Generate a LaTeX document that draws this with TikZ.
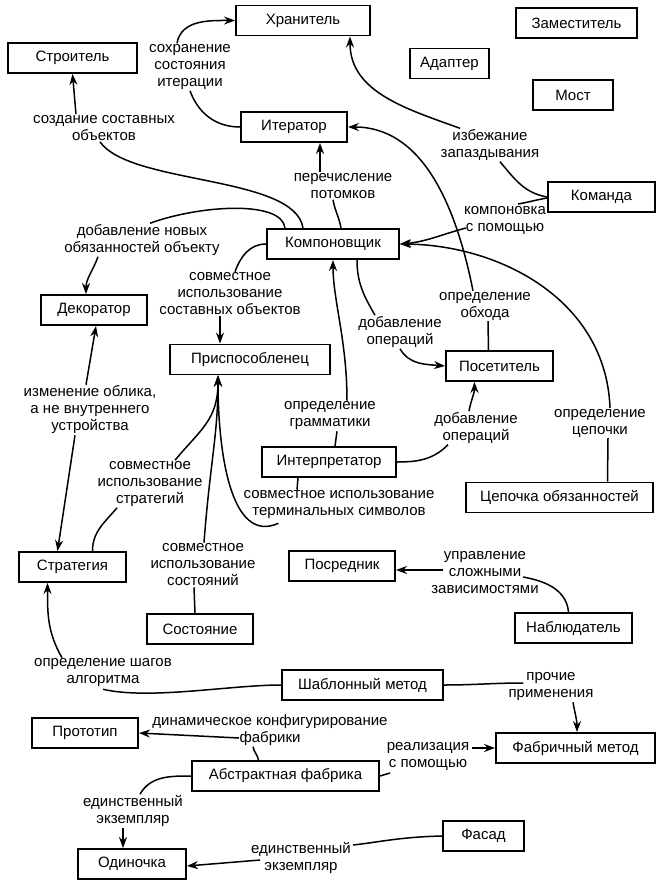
\documentclass[tikz,border=0pt]{standalone}
\usepackage{fontspec}
\setmainfont{Liberation Sans}
\usetikzlibrary{arrows.meta,calc}
\begin{document}
\begin{tikzpicture}[x=1pt,y=1pt,
  every node/.style={font=\fontsize{15}{17}\selectfont},
  box/.style={draw, line width=1.9pt, minimum height=30pt, inner sep=0pt},
  lab/.style={align=center, inner sep=1pt},
  conn/.style={line width=1.5pt},
  arr/.style={conn, -{Stealth[length=11pt,width=8pt]}}]
\useasboundingbox (0,0) rectangle (659,-884);
% boxes
\node[box, minimum width=134pt] (khran) at (303,-20.5) {Хранитель};
\node[box, minimum width=129pt] (stroi) at (72.5,-58) {Строитель};
\node[box, minimum width=121pt] (zam) at (576.5,-23) {Заместитель};
\node[box, minimum width=79pt] (adap) at (449.5,-63.5) {Адаптер};
\node[box, minimum width=80pt] (most) at (573,-95) {Мост};
\node[box, minimum width=106pt] (iter) at (294,-127) {Итератор};
\node[box, minimum width=107pt] (kom) at (601.5,-197) {Команда};
\node[box, minimum width=132pt] (komp) at (333,-244) {Компоновщик};
\node[box, minimum width=106pt] (deco) at (94,-310) {Декоратор};
\node[box, minimum width=160pt] (pris) at (250,-359.5) {Приспособленец};
\node[box, minimum width=107pt] (pos) at (499.5,-366) {Посетитель};
\node[box, minimum width=134pt] (interp) at (329,-462) {Интерпретатор};
\node[box, minimum width=187pt] (cep) at (559.5,-497.5) {Цепочка обязанностей};
\node[box, minimum width=107pt] (strat) at (72.5,-567) {Стратегия};
\node[box, minimum width=106pt] (posr) at (342,-566) {Посредник};
\node[box, minimum width=106pt] (sost) at (200,-629) {Состояние};
\node[box, minimum width=117pt] (obs) at (573.5,-628) {Наблюдатель};
\node[box, minimum width=161pt] (tmpl) at (362.5,-685) {Шаблонный метод};
\node[box, minimum width=106pt] (proto) at (85,-733) {Прототип};
\node[box, minimum width=159pt] (fabr) at (575.5,-748) {Фабричный метод};
\node[box, minimum width=187pt] (abs) at (285.5,-776) {Абстрактная фабрика};
\node[box, minimum width=81pt] (fasad) at (483.5,-836) {Фасад};
\node[box, minimum width=108pt] (odin) at (132,-864) {Одиночка};
% labels
\node[lab] (Lsoh) at (190,-67) {сохранение\\состояния\\итерации};
\node[lab] (Lsoz) at (104,-128) {создание составных\\объектов};
\node[lab] (Lizb) at (490,-145) {избежание\\запаздывания};
\node[lab] (Lper) at (343,-186) {перечисление\\потомков};
\node[lab] (Lkomp) at (505,-220) {компоновка\\с помощью};
\node[lab] (Ldob) at (142,-240) {добавление новых\\обязанностей объекту};
\node[lab] (Lsov1) at (230,-294) {совместное\\использование\\составных объектов};
\node[lab] (Lobh) at (485,-306) {определение\\обхода};
\node[lab] (Ldop1) at (400,-332) {добавление\\операций};
\node[lab] (Lizm) at (90,-410) {изменение облика,\\а не внутреннего\\устройства};
\node[lab] (Lopg) at (330,-416) {определение\\грамматики};
\node[lab] (Lcep) at (600,-423) {определение\\цепочки};
\node[lab] (Ldop2) at (476,-428) {добавление\\операций};
\node[lab] (Lsov2) at (150,-484) {совместное\\использование\\стратегий};
\node[lab] (Lsov4) at (339,-505) {совместное использование\\терминальных символов};
\node[lab] (Lsov3) at (203,-565) {совместное\\использование\\состояний};
\node[lab] (Lupr) at (485,-573) {управление\\сложными\\зависимостями};
\node[lab] (Lopr) at (103,-673) {определение шагов\\алгоритма};
\node[lab] (Lpro) at (551,-687) {прочие\\применения};
\node[lab] (Ldin) at (270,-730) {динамическое конфигурирование\\фабрики};
\node[lab] (Lrea) at (428,-756) {реализация\\с помощью};
\node[lab] (Lein1) at (133,-811) {единственный\\экземпляр};
\node[lab] (Lein2) at (301,-858) {единственный\\экземпляр};
% connectors
% Iterator -> Memento
\draw[conn] (Lsoh.south) to[out=-70,in=180] (iter.west);
\draw[arr] ([xshift=-13pt]Lsoh.north) to[out=80,in=180] (khran.west);
% Command -> Memento
\draw[conn] ([xshift=10pt]Lizb.south) to[out=-50,in=170] (kom.west);
\draw[arr] ([xshift=-30pt]Lizb.north) to[out=160,in=-90] ([xshift=47pt]khran.south);
% Composite -> Builder
\draw[conn] ([xshift=-4pt]Lsoz.south) .. controls (130,-185) and (295,-175) .. ([xshift=-30pt]komp.north);
\draw[arr] ([xshift=-28pt]Lsoz.north) to[out=95,in=-85] (stroi.south);
% Composite -> Decorator
\draw[conn] ([xshift=8pt]Ldob.north) .. controls (200,-205) and (282,-200) .. ([xshift=-48pt]komp.north);
\draw[arr] ([xshift=-44pt]Ldob.south) to[out=-110,in=90] ([xshift=-8pt]deco.north);
% Composite -> Iterator
\draw[conn] ([xshift=-10pt]Lper.south) to[out=-80,in=100] ([xshift=8pt]komp.north);
\draw[arr] ([xshift=-23pt]Lper.north) -- ([xshift=26pt]iter.south);
% Command -> Composite
\draw[conn] ([yshift=-1pt]kom.west) to[out=190,in=10] ($(Lkomp.center)+(13,16)$);
\draw[arr] ($(Lkomp.west)+(3,-8)$) to[out=-165,in=5] (komp.east);
% Chain -> Composite
\draw[conn] ([xshift=8pt]Lcep.south) -- ([xshift=48pt]cep.north);
\draw[arr] ([xshift=10pt]Lcep.north) .. controls (606,-300) and (500,-245) .. (komp.east);
% Visitor -> Iterator
\draw[conn] ([xshift=3pt]Lobh.south) -- ([xshift=-11pt]pos.north);
\draw[arr] ([xshift=-12pt]Lobh.north) .. controls (455,-200) and (420,-127) .. (iter.east);
% Composite -> Visitor
\draw[conn] ([xshift=24pt]komp.south) to[out=-90,in=120] ([xshift=-25pt]Ldop1.north);
\draw[arr] (Ldop1.south) to[out=-60,in=175] (pos.west);
% Composite -> Flyweight
\draw[conn] (komp.west) to[out=180,in=70] ([xshift=5pt]Lsov1.north);
\draw[arr] ([xshift=-10pt]Lsov1.south) -- ([xshift=-30pt]pris.north);
% Decorator <-> Strategy
\draw[arr] ([xshift=-4pt]Lizm.north) -- ([xshift=2pt]deco.south);
\draw[arr] ([xshift=-15pt]Lizm.south) -- ([xshift=-15pt]strat.north);
% Interpreter -> Composite
\draw[conn] ([xshift=7pt]Lopg.south) -- ([xshift=6pt]interp.north);
\draw[arr] ([xshift=17pt]Lopg.north) .. controls +(0,60) and +(0,-40) .. (komp.south);
% Interpreter -> Visitor
\draw[conn] (interp.east) to[out=0,in=-135] ([xshift=-28pt]Ldop2.south);
\draw[arr] ([xshift=-7pt]Ldop2.north) to[out=80,in=-90] ([xshift=-25pt]pos.south);
% Strategy -> Flyweight
\draw[conn] ([xshift=20pt]strat.north) to[out=90,in=-130] ([xshift=-33pt]Lsov2.south);
\draw[arr] ([xshift=25pt]Lsov2.north) .. controls (200,-430) and (218,-420) .. ([xshift=-32pt]pris.south);
% State -> Flyweight
\draw[conn] ([xshift=-9pt]Lsov3.south) -- ([xshift=-5pt]sost.north);
\draw[arr] ([xshift=1pt]Lsov3.north) .. controls +(6,80) and +(0,-60) .. ([xshift=-32pt]pris.south);
% Interpreter -> Flyweight
\draw[conn] ([xshift=-31pt]interp.south) -- ([xshift=-42pt]Lsov4.north);
\draw[arr] ($(Lsov4.south west)+(36,-3)$) .. controls (230,-545) and (218,-450) .. ([xshift=-32pt]pris.south);
% Observer -> Mediator
\draw[conn] ([xshift=-5pt]obs.north) to[out=95,in=-10] ($(Lupr.center)+(38,-4)$);
\draw[arr] ($(Lupr.center)+(-42,3)$) -- ([yshift=-4pt]posr.east);
% Template -> Strategy
\draw[conn] ($(Lopr.south)+(0,-1)$) .. controls (150,-700) and (230,-685) .. (tmpl.west);
\draw[arr] ([xshift=-41pt]Lopr.north) to[out=120,in=-90] ([xshift=-25pt]strat.south);
% Template -> Factory method
\draw[conn] (tmpl.east) to[out=0,in=180] ($(Lpro.west)+(16,4)$);
\draw[arr] ([xshift=22pt]Lpro.south) to[out=-80,in=90] ([xshift=1.5pt]fabr.north);
% Abstract factory -> Prototype
\draw[conn] ([xshift=-27pt]abs.north) to[out=100,in=-80] ([xshift=-17pt]Ldin.south);
\draw[arr] ($(Ldin.center)+(-31,-8)$) -- (proto.east);
% Abstract factory -> Factory method
\draw[conn] (abs.east) -- ($(Lrea.center)+(-38,-17)$);
\draw[arr] ($(Lrea.center)+(44,8)$) -- (fabr.west);
% Abstract factory -> Singleton
\draw[conn] (abs.west) to[out=180,in=60] ([xshift=7pt]Lein1.north);
\draw[arr] ([xshift=-10pt]Lein1.south) -- ([xshift=-9pt]odin.north);
% Facade -> Singleton
\draw[conn] (fasad.west) .. controls (400,-837) and (380,-842) .. ($(Lein2.center)+(52,13)$);
\draw[arr] ($(Lein2.center)+(-41,-2)$) -- ([yshift=-2pt]odin.east);
\end{tikzpicture}
\end{document}
